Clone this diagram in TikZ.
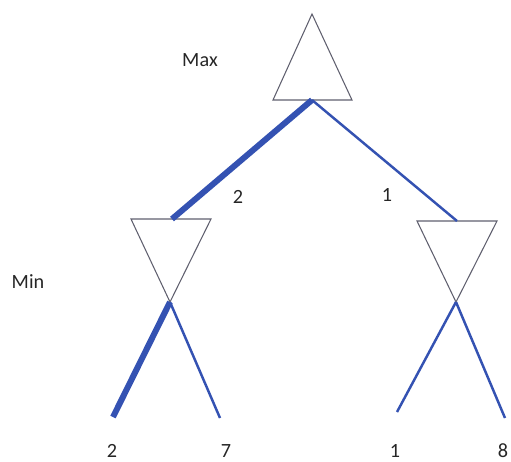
\documentclass[tikz,border=0pt]{standalone}
\usepackage{fontspec}
\setmainfont{Carlito}
\definecolor{edgeblue}{RGB}{52,82,178}
\definecolor{trigray}{RGB}{95,95,110}
\begin{document}
\begin{tikzpicture}[x=0.02cm, y=-0.02cm,
  tri/.style={draw=trigray, line width=0.6pt, line join=miter},
  edge/.style={draw=edgeblue, line width=1.4pt},
  best/.style={draw=edgeblue, line width=3.4pt},
  lbl/.style={font=\fontsize{11.5pt}{13pt}\selectfont, text=black!85, inner sep=1pt}]
  \useasboundingbox (0,0) rectangle (511,461);
  % triangles
  \coordinate (maxtop) at (312,14);
  \coordinate (maxbase) at (312,100);
  \draw[tri] (maxtop) -- (273,100) -- (352,100) -- cycle;
  \coordinate (lminbase) at (172,219);
  \coordinate (lmintip) at (170,302);
  \draw[tri] (lmintip) -- (131,219) -- (211,219) -- cycle;
  \coordinate (rminbase) at (457,221);
  \coordinate (rmintip) at (456,302);
  \draw[tri] (rmintip) -- (417,221) -- (497,221) -- cycle;
  % leaves
  \coordinate (leafa) at (113,417);
  \coordinate (leafb) at (220,418);
  \coordinate (leafc) at (397,412);
  \coordinate (leafd) at (505,418);
  % edges
  \draw[best] (maxbase) -- (lminbase);
  \draw[edge] (maxbase) -- (rminbase);
  \draw[best] (lmintip) -- (leafa);
  \draw[edge] (lmintip) -- (leafb);
  \draw[edge] (rmintip) -- (leafc);
  \draw[edge] (rmintip) -- (leafd);
  % labels
  \node[lbl] (maxlbl) at (200,60) {Max};
  \node[lbl] (minlbl) at (28,282) {Min};
  \node[lbl] (vala) at (238,197) {2};
  \node[lbl] (valb) at (387,195) {1};
  \node[lbl] (leafva) at (112,451) {2};
  \node[lbl] (leafvb) at (226,451) {7};
  \node[lbl] (leafvc) at (395,451) {1};
  \node[lbl] (leafvd) at (503,451) {8};
\end{tikzpicture}
\end{document}
